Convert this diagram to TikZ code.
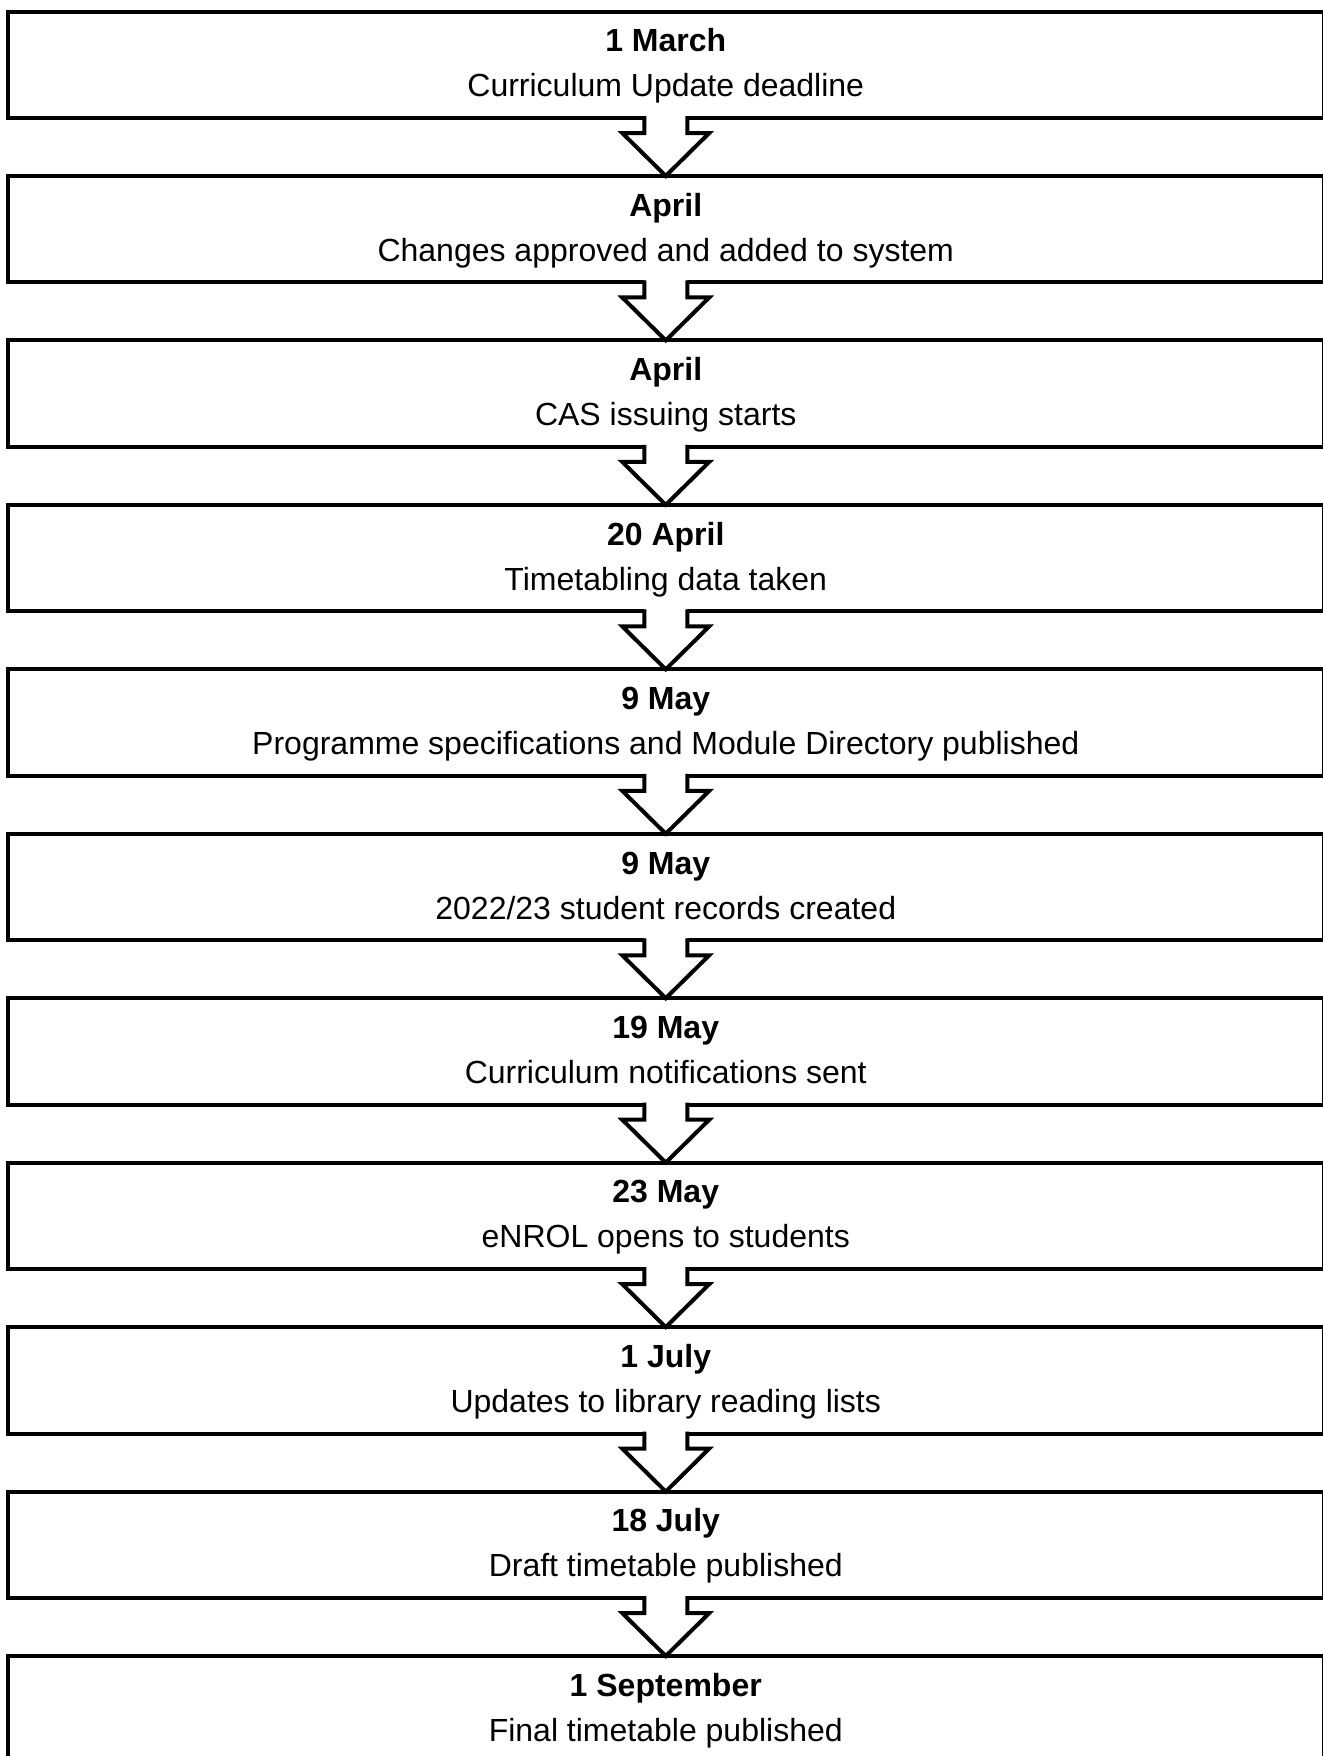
\documentclass[tikz,border=0pt]{standalone}
\usepackage{fontspec}
\setmainfont{Liberation Sans}
\usetikzlibrary{calc}
\tikzset{
  stagebox/.style={draw=black, line width=3pt, fill=white, minimum width=987pt,
    minimum height=79.875pt, inner sep=0pt, outer sep=0pt},
  datetext/.style={anchor=base, inner sep=0pt, font=\fontsize{24pt}{28pt}\selectfont\bfseries},
  desctext/.style={anchor=base, inner sep=0pt, font=\fontsize{24pt}{28pt}\selectfont},
  flowarrow/.style={draw=black, line width=3pt, fill=white, line join=miter, miter limit=10}
}
\newcommand\blockarrow[2]{%
  \fill[white] ($(#1.south)+(-21.5,-4)$) rectangle ($(#1.south)+(21.5,15)$);
  \draw[flowarrow] ($(#1.south)+(-21.5,-2)$) -- ($(#1.south)+(-21.5,15)$)
    -- ($(#1.south)+(-43.5,15)$) -- (#2.north) -- ($(#1.south)+(43.5,15)$)
    -- ($(#1.south)+(21.5,15)$) -- ($(#1.south)+(21.5,-2)$);
}
\begin{document}
\begin{tikzpicture}[x=0.75pt,y=-0.75pt]
\clip (0,0) rectangle (1323,1756);
\fill[white] (0,0) rectangle (1323,1756);

\node[stagebox] (b0)  at (665.75,64.75) {};
\node[stagebox] (b1)  at (665.75,229.2) {};
\node[stagebox] (b2)  at (665.75,393.65) {};
\node[stagebox] (b3)  at (665.75,558.1) {};
\node[stagebox] (b4)  at (665.75,722.55) {};
\node[stagebox] (b5)  at (665.75,887.0) {};
\node[stagebox] (b6)  at (665.75,1051.45) {};
\node[stagebox] (b7)  at (665.75,1215.9) {};
\node[stagebox] (b8)  at (665.75,1380.35) {};
\node[stagebox] (b9)  at (665.75,1544.8) {};
\node[stagebox] (b10) at (665.75,1709.25) {};

\node[datetext] (d0) at ($(b0.center)+(0,-13)$) {1 March};
\node[desctext] (t0) at ($(b0.center)+(0,32)$) {Curriculum Update deadline};
\node[datetext] (d1) at ($(b1.center)+(0,-13)$) {April};
\node[desctext] (t1) at ($(b1.center)+(0,32)$) {Changes approved and added to system};
\node[datetext] (d2) at ($(b2.center)+(0,-13)$) {April};
\node[desctext] (t2) at ($(b2.center)+(0,32)$) {CAS issuing starts};
\node[datetext] (d3) at ($(b3.center)+(0,-13)$) {20 April};
\node[desctext] (t3) at ($(b3.center)+(0,32)$) {Timetabling data taken};
\node[datetext] (d4) at ($(b4.center)+(0,-13)$) {9 May};
\node[desctext] (t4) at ($(b4.center)+(0,32)$) {Programme specifications and Module Directory published};
\node[datetext] (d5) at ($(b5.center)+(0,-13)$) {9 May};
\node[desctext] (t5) at ($(b5.center)+(0,32)$) {2022/23 student records created};
\node[datetext] (d6) at ($(b6.center)+(0,-13)$) {19 May};
\node[desctext] (t6) at ($(b6.center)+(0,32)$) {Curriculum notifications sent};
\node[datetext] (d7) at ($(b7.center)+(0,-13)$) {23 May};
\node[desctext] (t7) at ($(b7.center)+(0,32)$) {eNROL opens to students};
\node[datetext] (d8) at ($(b8.center)+(0,-13)$) {1 July};
\node[desctext] (t8) at ($(b8.center)+(0,32)$) {Updates to library reading lists};
\node[datetext] (d9) at ($(b9.center)+(0,-13)$) {18 July};
\node[desctext] (t9) at ($(b9.center)+(0,32)$) {Draft timetable published};
\node[datetext] (d10) at ($(b10.center)+(0,-13)$) {1 September};
\node[desctext] (t10) at ($(b10.center)+(0,32)$) {Final timetable published};

\blockarrow{b0}{b1}
\blockarrow{b1}{b2}
\blockarrow{b2}{b3}
\blockarrow{b3}{b4}
\blockarrow{b4}{b5}
\blockarrow{b5}{b6}
\blockarrow{b6}{b7}
\blockarrow{b7}{b8}
\blockarrow{b8}{b9}
\blockarrow{b9}{b10}
\end{tikzpicture}
\end{document}
